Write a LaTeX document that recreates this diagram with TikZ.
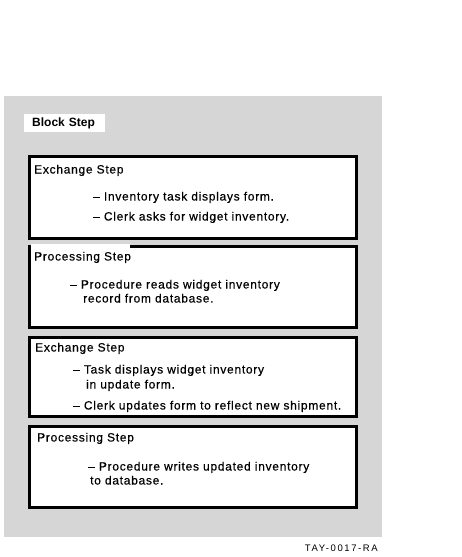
\documentclass[tikz,border=0pt]{standalone}
\usepackage{fontspec}
\setmainfont{Liberation Sans}[LetterSpace=6,FakeBold=0.4]
\newfontfamily\blockfont{Liberation Sans}
\newfontfamily\footfont[LetterSpace=17]{Liberation Sans}
\definecolor{panelgray}{RGB}{214,214,214}
\tikzset{
  panel/.style={fill=panelgray, draw=none, minimum width=378pt, minimum height=441pt, inner sep=0pt},
  stepbox/.style={draw=black, fill=white, line width=3pt, minimum width=327pt, inner sep=0pt},
  txt/.style={anchor=base west, inner sep=0pt, font=\fontsize{12}{14}\selectfont},
  blocklabel/.style={fill=white, anchor=west, inner xsep=8pt, inner ysep=0pt, minimum height=18pt, text width=65pt, align=left, font=\blockfont\fontsize{12}{14}\selectfont\bfseries},
  cover/.style={fill=white, draw=none, anchor=north west, inner sep=0pt, minimum width=99pt, minimum height=6pt},
}
\begin{document}
\begin{tikzpicture}[x=1pt,y=-1pt]
\useasboundingbox (0,0) rectangle (461,557);
\node[panel] (block) at (193,316.5) {};
\node[blocklabel] (blk) at (24,123) {Block Step};

\node[stepbox, minimum height=82pt] (b1) at (193,197.5) {};
\node[stepbox, minimum height=81pt] (b2) at (193,287) {};
\node[stepbox, minimum height=79pt] (b3) at (193,377) {};
\node[stepbox, minimum height=81pt] (b4) at (193,467) {};

% box 1
\node[txt] (t1a) at (34,173.5) {Exchange Step};
\node[txt] (t1b) at (93,200.5) {–\ Inventory task displays form.};
\node[txt] (t1c) at (93,220.5) {–\ Clerk asks for widget inventory.};

% box 2
\node[cover] (c2) at (31,243.5) {};
\node[txt] (t2a) at (34,260.5) {Processing Step};
\node[txt] (t2b) at (70,288.5) {–\ Procedure reads widget inventory};
\node[txt] (t2c) at (83,302.5) {record from database.};

% box 3
\node[txt] (t3a) at (35,351.5) {Exchange Step};
\node[txt] (t3b) at (73,373.5) {–\ Task displays widget inventory};
\node[txt] (t3c) at (86,388.5) {in update form.};
\node[txt] (t3d) at (73,409.5) {–\ Clerk updates form to reflect new shipment.};

% box 4
\node[txt] (t4a) at (37,441.5) {Processing Step};
\node[txt] (t4b) at (88,470.5) {–\ Procedure writes updated inventory};
\node[txt] (t4c) at (90,484.5) {to database.};

\node[anchor=base east, inner sep=0pt, font=\footfont\fontsize{9.5}{11}\selectfont] (tag) at (378,551) {TAY-0017-RA};
\end{tikzpicture}
\end{document}
